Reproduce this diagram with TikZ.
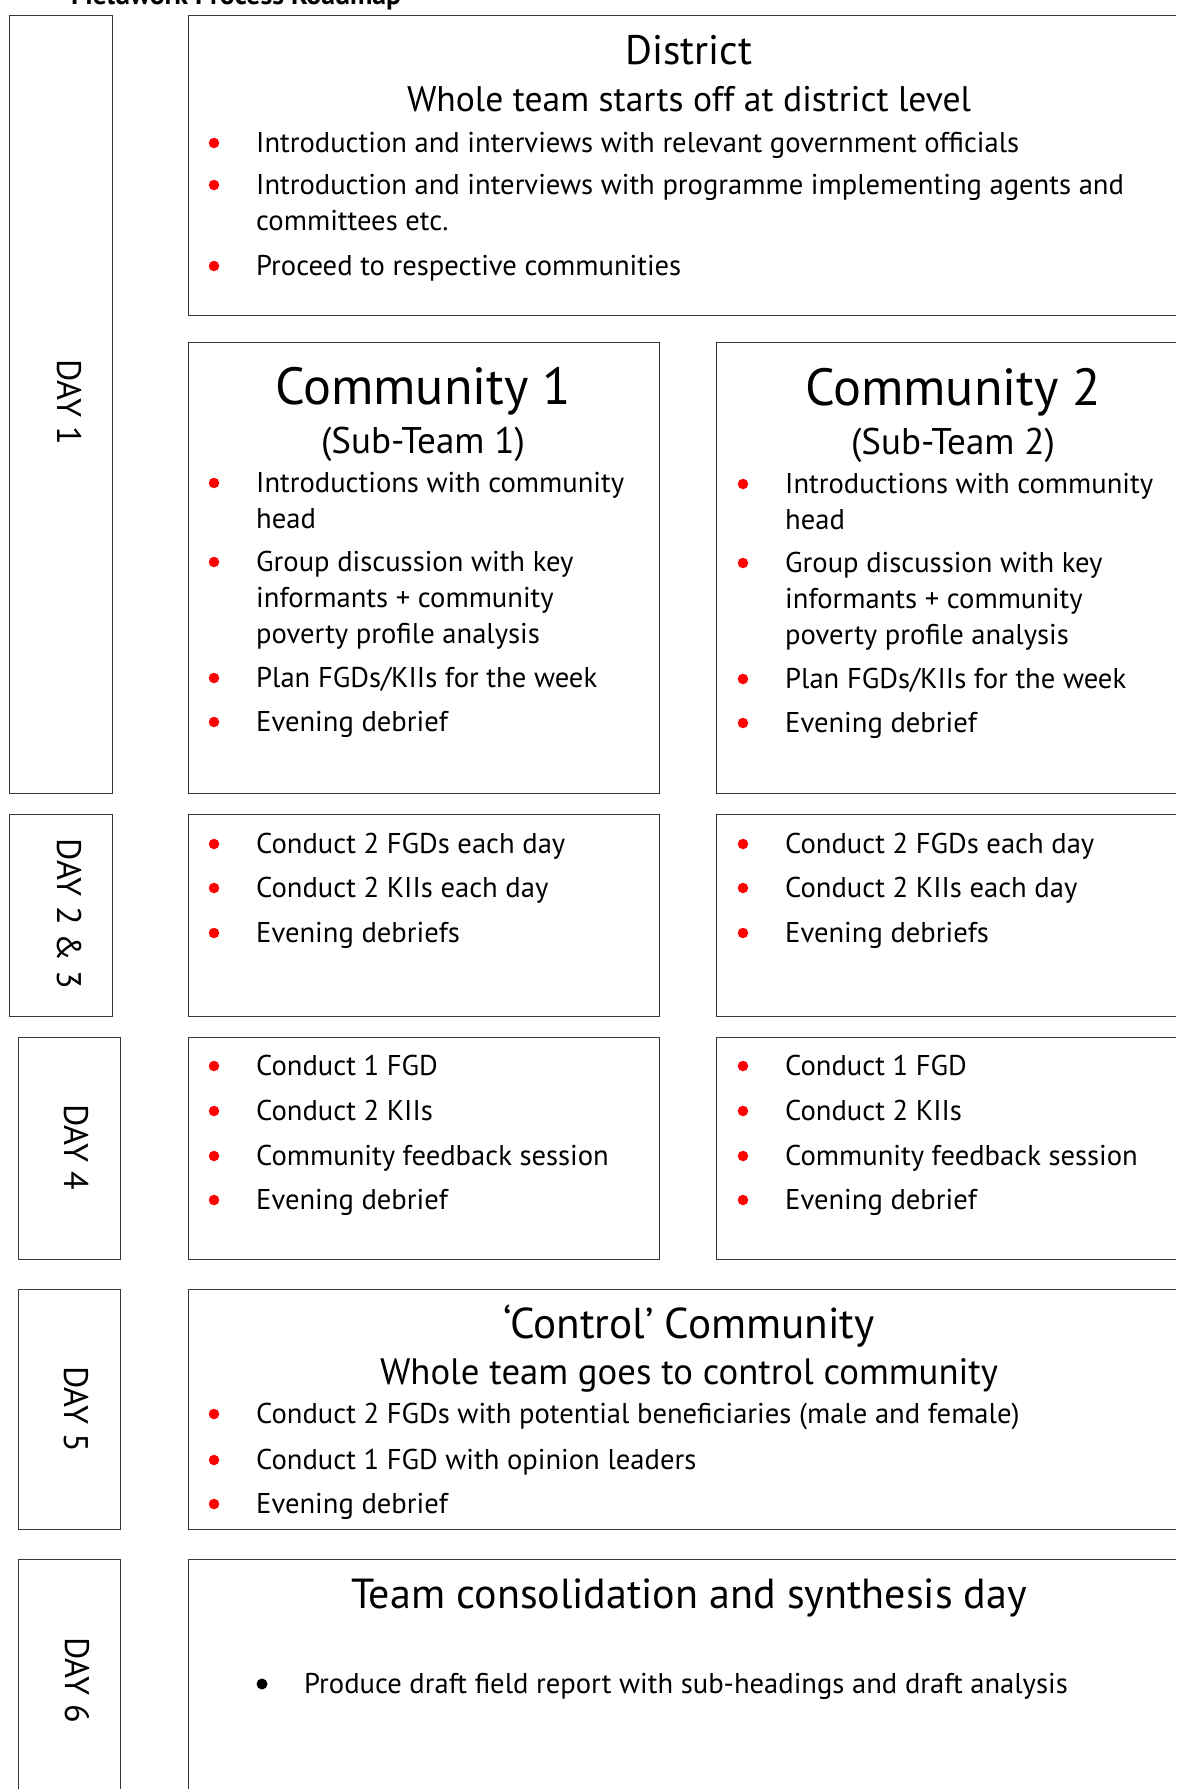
\documentclass[tikz,border=0pt]{standalone}
\usepackage{fontspec}
\setmainfont{PT Sans}
\newlength\fwlen
\newlength\fwlenb
\newcommand\fw[2]{\settowidth\fwlen{\fontsize{10pt}{12pt}\selectfont #2}\pgfmathsetmacro\fwsize{10*#1/\fwlen}\fontsize{\fwsize pt}{\fwsize pt}\selectfont #2}
\tikzset{
  boxst/.style={draw=black!78, line width=1.4pt, rectangle, inner sep=0pt, anchor=north west},
  bodytxt/.style={anchor=base west, inner sep=0pt, font=\fontsize{\bodysize pt}{\bodysize pt}\selectfont},
  ttl/.style={anchor=base, inner sep=0pt},
  rdot/.style={circle, fill=red, draw=none, inner sep=0pt, minimum size=10.5pt},
  bdot/.style={circle, fill=black, draw=none, inner sep=0pt, minimum size=11pt},
  daylbl/.style={rotate=-90, inner sep=0pt, anchor=center, font=\fontsize{\daysize pt}{\daysize pt}\selectfont}
}
\begin{document}
\settowidth\fwlen{\fontsize{10pt}{12pt}\selectfont Introduction and interviews with relevant government officials}%
\pgfmathsetmacro\tmpA{10*763/\fwlen}\xdef\bodysize{\tmpA}%
\settowidth\fwlen{\fontsize{10pt}{12pt}\selectfont DAY 2 \& 3}%
\settowidth\fwlenb{\fontsize{10pt}{12pt}\selectfont DAY 1}%
\pgfmathsetmacro\tmpB{0.5*(10*145/\fwlen+10*89/\fwlenb)}\xdef\daysize{\tmpB}%
\begin{tikzpicture}[x=1pt,y=-1pt]
\useasboundingbox (0,0) rectangle (1176,1789);
\clip (0,0) rectangle (1176,1789);

% title (cut off at top, as in the original)
\node[anchor=base west, inner sep=0pt] (title) at (71,4.5) {\bfseries\fw{330}{Fieldwork Process Roadmap}};

% boxes
\node[boxst, minimum width=103pt, minimum height=778pt] (day1) at (9,15) {};
\node[boxst, minimum width=1002pt, minimum height=300pt] (district) at (188,15) {};
\node[boxst, minimum width=471pt, minimum height=451pt] (com1) at (188,342) {};
\node[boxst, minimum width=474pt, minimum height=451pt] (com2) at (716,342) {};
\node[boxst, minimum width=103pt, minimum height=202pt] (day23) at (9,814) {};
\node[boxst, minimum width=471pt, minimum height=202pt] (c1d23) at (188,814) {};
\node[boxst, minimum width=474pt, minimum height=202pt] (c2d23) at (716,814) {};
\node[boxst, minimum width=102pt, minimum height=222pt] (day4) at (18,1037) {};
\node[boxst, minimum width=471pt, minimum height=222pt] (c1d4) at (188,1037) {};
\node[boxst, minimum width=474pt, minimum height=222pt] (c2d4) at (716,1037) {};
\node[boxst, minimum width=102pt, minimum height=240pt] (day5) at (18,1289) {};
\node[boxst, minimum width=1002pt, minimum height=240pt] (control) at (188,1289) {};
\node[boxst, minimum width=102pt, minimum height=260pt] (day6) at (18,1559) {};
\node[boxst, minimum width=1002pt, minimum height=260pt] (team) at (188,1559) {};

% day labels
\node[daylbl] (l1) at (69.5,402) {DAY 1};
\node[daylbl] (l23) at (69.5,914) {DAY 2 \& 3};
\node[daylbl] (l4) at (76,1147) {DAY 4};
\node[daylbl] (l5) at (76,1409) {DAY 5};
\node[daylbl] (l6) at (77,1680) {DAY 6};

% District
\node[ttl] (dT) at (689,64) {\fw{127}{District}};
\node[ttl] (dS) at (689,111) {\fw{564}{Whole team starts off at district level}};
\node[rdot] (dd1) at (214,143) {};
\node[bodytxt] (dt1) at (256,152) {Introduction and interviews with relevant government officials};
\node[rdot] (dd2) at (214,185) {};
\node[bodytxt] (dt2) at (256,194) {Introduction and interviews with programme implementing agents and};
\node[bodytxt] (dt2b) at (256,230) {committees etc.};
\node[rdot] (dd3) at (214,266) {};
\node[bodytxt] (dt3) at (256,275) {Proceed to respective communities};

% Community 1
\node[ttl] (c1T) at (423,404) {\fw{296}{Community 1}};
\node[ttl] (c1S) at (423,453) {\fw{204}{(Sub-Team 1)}};
\node[rdot] (c1d1) at (214,483) {};
\node[bodytxt] (c1t1) at (256,492) {Introductions with community};
\node[bodytxt] (c1t1b) at (256,528) {head};
\node[rdot] (c1d2) at (214,562) {};
\node[bodytxt] (c1t2) at (256,571) {Group discussion with key};
\node[bodytxt] (c1t2b) at (256,607) {informants + community};
\node[bodytxt] (c1t2c) at (256,643) {poverty profile analysis};
\node[rdot] (c1d3) at (214,678) {};
\node[bodytxt] (c1t3) at (256,687) {Plan FGDs/KIIs for the week};
\node[rdot] (c1d4) at (214,722) {};
\node[bodytxt] (c1t4) at (256,731) {Evening debrief};

% Community 2
\node[ttl] (c2T) at (953,405) {\fw{296}{Community 2}};
\node[ttl] (c2S) at (953,454) {\fw{204}{(Sub-Team 2)}};
\node[rdot] (c2d1) at (743,484) {};
\node[bodytxt] (c2t1) at (785,493) {Introductions with community};
\node[bodytxt] (c2t1b) at (785,529) {head};
\node[rdot] (c2d2) at (743,563) {};
\node[bodytxt] (c2t2) at (785,572) {Group discussion with key};
\node[bodytxt] (c2t2b) at (785,608) {informants + community};
\node[bodytxt] (c2t2c) at (785,644) {poverty profile analysis};
\node[rdot] (c2d3) at (743,679) {};
\node[bodytxt] (c2t3) at (785,688) {Plan FGDs/KIIs for the week};
\node[rdot] (c2d4) at (743,723) {};
\node[bodytxt] (c2t4) at (785,732) {Evening debrief};

% Days 2 & 3
\node[rdot] (e1d1) at (214,844) {};
\node[bodytxt] (e1t1) at (256,853) {Conduct 2 FGDs each day};
\node[rdot] (e1d2) at (214,888) {};
\node[bodytxt] (e1t2) at (256,897) {Conduct 2 KIIs each day};
\node[rdot] (e1d3) at (214,933) {};
\node[bodytxt] (e1t3) at (256,942) {Evening debriefs};
\node[rdot] (e2d1) at (743,844) {};
\node[bodytxt] (e2t1) at (785,853) {Conduct 2 FGDs each day};
\node[rdot] (e2d2) at (743,888) {};
\node[bodytxt] (e2t2) at (785,897) {Conduct 2 KIIs each day};
\node[rdot] (e2d3) at (743,933) {};
\node[bodytxt] (e2t3) at (785,942) {Evening debriefs};

% Day 4
\node[rdot] (f1d1) at (214,1066) {};
\node[bodytxt] (f1t1) at (256,1075) {Conduct 1 FGD};
\node[rdot] (f1d2) at (214,1111) {};
\node[bodytxt] (f1t2) at (256,1120) {Conduct 2 KIIs};
\node[rdot] (f1d3) at (214,1156) {};
\node[bodytxt] (f1t3) at (256,1165) {Community feedback session};
\node[rdot] (f1d4) at (214,1200) {};
\node[bodytxt] (f1t4) at (256,1209) {Evening debrief};
\node[rdot] (f2d1) at (743,1066) {};
\node[bodytxt] (f2t1) at (785,1075) {Conduct 1 FGD};
\node[rdot] (f2d2) at (743,1111) {};
\node[bodytxt] (f2t2) at (785,1120) {Conduct 2 KIIs};
\node[rdot] (f2d3) at (743,1156) {};
\node[bodytxt] (f2t3) at (785,1165) {Community feedback session};
\node[rdot] (f2d4) at (743,1200) {};
\node[bodytxt] (f2t4) at (785,1209) {Evening debrief};

% Control community
\node[ttl] (kT) at (689,1338) {\fw{371}{‘Control’ Community}};
\node[ttl] (kS) at (689,1384) {\fw{618}{Whole team goes to control community}};
\node[rdot] (kd1) at (214,1414) {};
\node[bodytxt] (kt1) at (256,1423) {Conduct 2 FGDs with potential beneficiaries (male and female)};
\node[rdot] (kd2) at (214,1460) {};
\node[bodytxt] (kt2) at (256,1469) {Conduct 1 FGD with opinion leaders};
\node[rdot] (kd3) at (214,1504) {};
\node[bodytxt] (kt3) at (256,1513) {Evening debrief};

% Team consolidation
\node[ttl] (tT) at (689,1608) {\fw{676}{Team consolidation and synthesis day}};
\node[bdot] (td1) at (262,1684) {};
\node[bodytxt] (tt1) at (304,1693) {Produce draft field report with sub-headings and draft analysis};
\end{tikzpicture}
\end{document}
